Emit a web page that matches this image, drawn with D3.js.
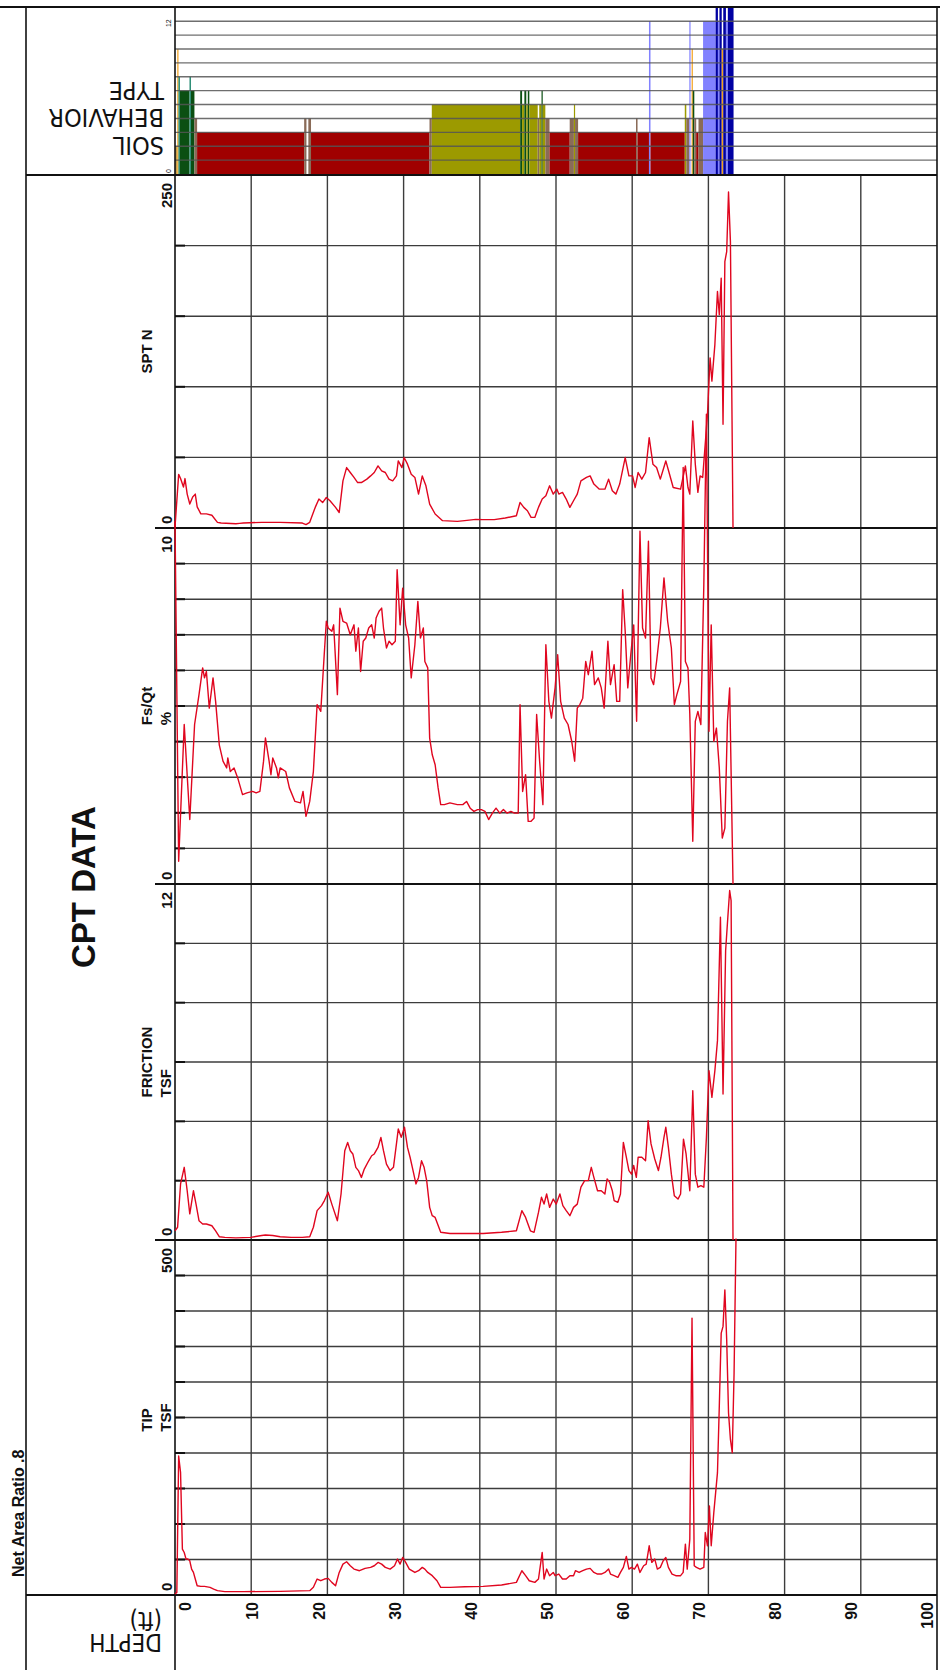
<!DOCTYPE html>
<html><head><meta charset="utf-8">
<script src="https://cdn.jsdelivr.net/npm/d3@7"></script>
<style>
html,body{margin:0;padding:0;background:#fff;}
svg{display:block;}
text{font-family:"Liberation Sans",Arial,Helvetica,sans-serif;fill:#111;}
text.narrow{font-family:"Liberation Sans Narrow","Arial Narrow","DejaVu Sans Condensed",sans-serif;font-stretch:condensed;}
</style>
</head><body>
<svg id="chart" width="940" height="1670"></svg>
<script>
// ---------------- DATA ----------------
const depthTicks = [0,10,20,30,40,50,60,70,80,90,100];

const sptDepth = [0,0.48,0.73,1.11,1.31,1.6,1.94,2.32,2.66,2.91,3.39,4.12,4.84,5.57,6.05,7.99,8.48,8.96,11.38,13.8,16.71,17.19,17.68,18.4,18.89,19.37,19.86,20.34,21.07,21.55,22.04,22.52,23.0,23.49,23.97,24.46,25.18,25.67,26.15,26.64,27.12,27.6,28.09,28.57,29.06,29.3,29.78,30.07,30.51,31.0,31.48,31.96,32.45,32.93,33.42,34.14,35.11,37.05,38.02,39.47,40.44,41.89,43.34,44.8,45.28,45.77,46.25,46.73,47.22,47.7,48.19,48.67,49.16,49.64,50.12,50.37,50.85,51.34,51.82,52.3,52.79,53.27,54.0,54.48,54.97,55.69,56.42,56.9,57.39,57.87,58.36,59.08,59.57,60.05,60.39,60.78,61.26,61.75,62.23,62.72,63.2,63.69,64.41,64.9,65.38,66.35,66.98,67.32,67.56,67.95,68.28,68.62,68.91,69.25,69.88,70.22,70.46,70.85,71.19,71.43,71.68,71.92,72.16,72.4,72.64,72.89,73.23];
const sptN = [0.5,38,35,29,35,24,17,22,24,15,10,10,9,4,3.5,3,3.3,3.5,4,4,3.5,2.4,4,14.6,20.5,18,21.6,19.3,14.6,11,33.4,42.8,39.3,35.8,32.2,32.2,34.6,36.9,39.3,44,40.5,39.3,34.6,33.4,36.9,47.5,42.8,49.9,45.2,38.1,35.8,24,36.9,29.9,16.9,9.9,5.2,4.7,5.2,6.1,5.9,5.9,7.1,8.7,18.1,14.6,12.2,7.5,7.5,14.6,20.5,22.8,29.9,24,27.5,24,25.2,20.5,14.6,19.3,24,33.4,35.8,36.9,31.1,27.5,27.5,34.6,26.4,24,31.1,49.9,36.9,36.9,28.7,39.3,34.6,39.3,64,45.2,42.8,34.6,47.5,38.1,28.7,27.5,44,28.7,24,75.8,45.2,25.2,36.9,35.8,80.5,120.5,104,129.9,167.5,151,177,73.4,188.7,195.8,238,202.8,0];

const fsqtDepth = [0,0.48,1.21,1.94,2.57,3.15,3.63,3.87,4.12,4.5,4.99,5.33,5.81,6.3,6.78,6.93,7.26,7.75,8.23,8.86,9.44,10.17,10.65,11.14,11.62,11.87,12.35,12.59,12.83,13.32,13.56,13.8,14.53,15.01,15.74,16.47,16.8,17.19,17.68,18.16,18.65,19.13,19.61,19.86,20.1,20.58,20.82,21.31,21.65,22.04,22.52,23.0,23.49,23.73,24.07,24.36,24.7,25.04,25.42,25.81,26.15,26.39,26.78,27.12,27.36,27.75,28.09,28.48,28.91,29.15,29.54,29.88,30.27,30.66,31.0,31.48,31.87,32.21,32.59,32.79,33.17,33.42,33.76,34.14,34.53,34.87,35.35,36.08,37.05,37.77,38.26,38.74,39.23,39.71,40.2,40.68,41.16,41.65,42.13,42.62,43.1,43.59,44.07,44.56,45.04,45.28,45.62,46.01,46.35,46.73,47.12,47.46,47.85,48.28,48.67,49.06,49.4,49.88,50.22,50.61,51.09,51.58,52.06,52.45,52.79,53.13,53.51,53.9,54.24,54.73,55.06,55.55,55.94,56.32,56.81,57.15,57.63,57.97,58.36,58.75,59.08,59.42,59.81,60.2,60.58,61.02,61.36,61.75,62.13,62.47,62.81,63.2,63.69,64.17,64.65,65.14,65.53,65.86,66.35,66.69,66.98,67.32,67.56,67.95,68.28,68.62,69.01,69.4,69.74,70.08,70.37,70.71,71.05,71.43,71.82,72.16,72.5,72.79,73.23];
const fsqtPct = [10.2,0.64,4.48,1.81,4.48,5.32,6.07,5.79,5.97,4.94,5.79,5.13,3.91,3.45,3.26,3.54,3.16,3.26,2.98,2.51,2.56,2.6,2.56,2.6,3.45,4.1,3.45,3.07,3.54,3.26,2.98,3.26,3.16,2.7,2.32,2.28,2.6,1.9,2.32,3.16,5.04,4.85,6.54,7.38,7.19,7.1,7.28,5.32,7.75,7.38,7.33,7.0,7.28,6.54,7.19,5.97,6.82,6.91,7.19,7.28,6.91,7.47,7.66,7.75,7.19,6.63,6.82,6.72,6.82,8.83,7.28,8.31,7.28,6.91,5.79,6.72,7.94,6.91,7.19,6.25,6.07,4.1,3.63,3.35,2.7,2.23,2.23,2.28,2.23,2.23,2.32,2.13,2.04,2.09,2.09,2.04,1.81,1.99,2.13,1.99,2.09,1.99,2.04,1.99,1.99,5.04,2.6,3.07,1.76,1.76,1.85,4.76,3.45,2.23,6.72,5.13,4.66,5.51,6.44,5.13,4.66,4.48,4.01,3.45,4.94,5.04,5.22,6.25,5.88,6.54,5.6,5.79,5.51,4.94,6.82,5.6,6.16,5.13,5.13,8.27,7.1,5.51,6.44,7.28,4.57,9.91,7.19,6.91,9.63,5.79,5.6,6.25,7.19,8.6,7.38,6.63,5.04,5.32,5.69,11.7,6.25,6.07,4.76,1.2,4.57,4.85,4.48,8.41,13.2,4.29,7.28,4.01,4.38,3.26,1.29,1.57,4.57,5.51,0];

const frictionDepth = [0,0.34,0.73,1.21,1.6,1.94,2.42,2.76,3.15,3.63,4.12,4.84,5.33,5.81,6.54,7.99,9.93,11.38,11.87,12.83,13.8,15.25,16.71,17.68,18.16,18.65,19.23,19.61,20.1,20.58,21.31,21.79,22.28,22.66,23.0,23.34,23.73,24.07,24.46,24.84,25.42,25.81,26.15,26.64,27.02,27.36,27.75,28.23,28.67,29.06,29.3,29.69,30.12,30.51,30.85,31.24,31.62,31.96,32.35,32.69,33.03,33.42,33.76,34.14,34.87,36.08,38.02,40.44,42.86,44.8,45.52,46.01,46.64,47.12,47.7,48.09,48.43,48.77,49.16,49.64,50.03,50.51,50.9,51.34,51.82,52.3,52.79,53.27,53.76,54.24,54.63,54.97,55.45,55.94,56.42,56.71,57.05,57.39,57.63,58.12,58.46,58.84,59.23,59.57,59.91,60.2,60.54,60.78,61.26,61.75,62.09,62.47,62.96,63.44,63.78,64.17,64.41,64.75,65.14,65.53,66.01,66.35,66.73,67.07,67.56,67.95,68.28,68.62,69.01,69.4,69.74,70.08,70.46,70.85,71.19,71.58,71.92,72.26,72.55,72.79,72.98,73.23];
const frictionTsf = [0.31,0.43,1.89,2.45,1.66,0.88,1.66,1.21,0.65,0.54,0.54,0.48,0.31,0.11,0.09,0.07,0.09,0.15,0.17,0.15,0.11,0.09,0.09,0.11,0.43,0.99,1.16,1.33,1.61,1.21,0.65,1.55,3.01,3.29,3.01,2.9,2.45,2.34,2.11,2.39,2.67,2.84,2.9,3.12,3.46,3.01,2.56,2.34,2.45,3.24,3.74,3.46,3.8,3.12,2.79,2.34,1.89,2.11,2.67,2.45,2.0,1.1,0.82,0.76,0.26,0.22,0.22,0.22,0.26,0.31,0.99,0.76,0.31,0.26,0.93,1.44,1.21,1.55,1.1,1.38,1.21,1.55,1.16,0.99,0.82,1.1,1.21,1.78,2.0,2.0,2.45,2.11,1.66,1.66,1.55,2.06,1.94,1.66,1.33,1.27,1.55,3.29,2.79,2.34,2.22,2.51,2.11,2.79,2.79,2.67,4.02,3.24,2.73,2.34,2.79,3.46,3.8,3.12,2.22,1.49,1.38,1.55,3.4,2.9,1.66,5.03,2.22,1.78,1.83,1.78,3.46,5.71,4.81,5.71,6.72,10.88,4.92,9.75,10.88,11.78,11.44,0];

const tipDepth = [0,0.24,0.48,0.73,0.97,1.21,1.45,1.69,1.94,2.18,2.42,2.66,2.91,3.39,3.87,4.6,5.08,5.57,6.54,8.96,13.8,17.68,18.16,18.65,19.13,19.61,20.1,20.58,21.07,21.55,22.04,22.52,23.0,23.49,24.21,24.94,25.67,26.15,26.64,27.12,27.6,28.23,28.81,29.2,29.54,29.88,30.27,30.75,31.48,31.96,32.45,32.79,33.17,33.76,34.38,34.87,36.08,38.02,40.44,42.86,44.8,45.52,46.01,46.49,47.22,47.7,48.19,48.43,48.77,49.16,49.64,49.88,50.37,50.85,51.34,51.82,52.3,52.55,53.03,53.51,54.0,54.48,54.97,55.45,55.94,56.42,56.9,57.15,57.63,58.12,58.46,58.84,59.23,59.57,59.91,60.3,60.68,61.02,61.5,61.84,62.23,62.57,62.96,63.3,63.69,64.07,64.41,64.75,65.23,65.72,66.35,66.69,66.98,67.22,67.56,67.85,68.14,68.43,68.91,69.4,69.59,69.88,70.13,70.37,70.71,70.95,71.19,71.43,71.68,71.92,72.16,72.4,72.64,72.89,73.13,73.37,73.62];
const tipTsf = [1.4,3.7,195.7,172.3,64.6,59.9,50.6,50.6,48.2,36.5,31.8,22.5,13.1,12.2,12.2,10.8,8.4,6.1,4.7,4.7,5.1,6.1,10.8,22.5,20.1,22.5,23.4,17.8,13.1,31.8,43.5,46.8,41.2,36.5,34.2,37.5,38.9,41.2,45.9,43.5,38.9,36.5,41.2,50.6,43.5,52.9,45.9,36.5,31.8,34.2,38.9,36.5,31.8,27.2,20.1,10.8,10.8,11.7,12.2,14.0,17.8,34.2,27.2,20.1,17.8,22.5,59.9,22.5,36.5,27.2,31.8,27.2,29.5,22.5,22.5,27.2,27.2,34.2,31.8,34.2,36.5,37.5,31.8,29.5,29.5,31.8,36.5,29.5,27.2,24.8,31.8,38.9,54.3,36.5,38.9,36.5,43.5,31.8,41.2,43.5,69.3,45.9,50.6,36.5,38.9,48.2,52.9,38.9,29.5,27.2,27.2,31.8,71.6,36.5,78.7,390,41.2,38.9,36.5,38.9,88,69.3,125.5,69.3,116.1,144.2,172.3,265.9,368.9,378.3,429.8,359.6,256.6,219.1,200.4,312.7,502];

// soil behavior type: interval start depth and zone (0 = no reading)
const soilFrom = [0,0.3,0.45,0.65,1.9,2.1,2.55,2.9,16.95,17.25,17.5,17.85,33.4,33.7,45.3,45.55,45.85,46.1,46.3,46.5,47.6,47.8,48.1,48.25,48.6,49.15,51.8,52.35,52.5,52.9,60.5,60.7,62.2,62.4,66.9,67.1,67.5,67.65,67.8,67.95,68.15,68.4,68.7,69.3,70.95,71.25,71.45,71.75,71.95,72.3,72.55];
const soilZone = [2,9,7,6,7,6,4,3,4,0,4,3,4,5,6,5,6,5,6,5,4,5,6,5,4,3,4,5,4,3,4,3,11,3,5,4,11,0,9,6,4,3,4,11,12,11,12,9,12,11,12];
const soilEnd = 73.3;
const zoneColors = {1:"#e9c9c2",2:"#c9a24e",3:"#a00000",4:"#8a6b58",5:"#9c9a00",6:"#0b4f12",7:"#2f8f78",8:"#66aa33",9:"#f2a11e",10:"#c0c040",11:"#8282ff",12:"#0000a2"};

const panelNames = [["SPT N"],["Fs/Qt","%"],["FRICTION","TSF"],["TIP","TSF"]];
const panelMax = [250,10,12,500];
const panelMaxLabel = ["250","10","12","500"];
const panelGrid = [[50,100,150,200],[1,2,3,4,5,6,7,8,9],[2,4,6,8,10],[50,100,150,200,250,300,350,400,450]];

// ---------------- LAYOUT ----------------
const svg = d3.select("#chart");
const X0 = 175, X1 = 937;
const x = d3.scaleLinear().domain([0,100]).range([X0, X1]);
const xLab = d3.scaleLinear().domain([0,20,100]).range([185, 319, 927]);
const panelTop = [175,528,884,1240], panelBot = [528,884,1240,1595];
const gridCol = "#3c3c3c", lineCol = "#e0061f";

// soil panel
const ys = d3.scaleLinear().domain([0,12]).range([174, 7.3]);
const soilSeg = soilFrom.map((d,i)=>({from:d,to:(i<soilFrom.length-1?soilFrom[i+1]:soilEnd),zone:soilZone[i]})).filter(s=>s.zone>0);
svg.append("g").selectAll("rect").data(soilSeg).join("rect")
  .attr("x",s=>x(s.from)).attr("width",s=>Math.max(1.2,x(s.to)-x(s.from)))
  .attr("y",s=>ys(s.zone)).attr("height",s=>ys(0)-ys(s.zone))
  .attr("fill",s=>zoneColors[s.zone]);
svg.append("g").selectAll("line").data(d3.range(1,12)).join("line")
  .attr("x1",X0).attr("x2",X1).attr("y1",z=>ys(z)).attr("y2",z=>ys(z))
  .attr("stroke","#555").attr("stroke-width",1.4).attr("stroke-opacity",0.85);
[[0,"0"],[12,"12"]].forEach(([z,t])=>{
  svg.append("text").attr("transform",`translate(171,${z===0?ys(0)-1:ys(12)+12}) rotate(-90)`)
    .attr("text-anchor",z===0?"start":"end").attr("font-size",7).text(t);
});

// vertical depth gridlines
svg.append("g").selectAll("line").data(depthTicks.slice(1,-1)).join("line")
  .attr("x1",d=>x(d)).attr("x2",d=>x(d)).attr("y1",175).attr("y2",1595)
  .attr("stroke",gridCol).attr("stroke-width",1.4);

// panels
const series = [
  {depth:sptDepth, val:sptN},
  {depth:fsqtDepth, val:fsqtPct},
  {depth:frictionDepth, val:frictionTsf},
  {depth:tipDepth, val:tipTsf}
];
const yScales = panelMax.map((m,i)=>d3.scaleLinear().domain([0,m]).range([panelBot[i],panelTop[i]]));
panelGrid.forEach((ticks,i)=>{
  const y = yScales[i];
  svg.append("g").selectAll("line").data(ticks).join("line")
    .attr("x1",X0).attr("x2",X1).attr("y1",v=>y(v)).attr("y2",v=>y(v))
    .attr("stroke",gridCol).attr("stroke-width",1.4);
  svg.append("g").selectAll("line").data(ticks).join("line")
    .attr("x1",X0).attr("x2",X0+10).attr("y1",v=>y(v)).attr("y2",v=>y(v))
    .attr("stroke","#111").attr("stroke-width",2);
});
// frame lines
const frame = svg.append("g").attr("stroke","#111").attr("fill","none");
frame.append("line").attr("x1",0).attr("x2",940).attr("y1",7).attr("y2",7).attr("stroke-width",2.2);
frame.append("line").attr("x1",26).attr("x2",26).attr("y1",7).attr("y2",1670).attr("stroke-width",1.6);
frame.append("line").attr("x1",X0).attr("x2",X0).attr("y1",7).attr("y2",1670).attr("stroke-width",1.6);
frame.append("line").attr("x1",X1).attr("x2",X1).attr("y1",7).attr("y2",1670).attr("stroke-width",1.6);
frame.append("line").attr("x1",26).attr("x2",X1).attr("y1",175).attr("y2",175).attr("stroke-width",1.8);
frame.append("line").attr("x1",26).attr("x2",X1).attr("y1",1595).attr("y2",1595).attr("stroke-width",1.8);
[528,884,1240].forEach(yy=>frame.append("line").attr("x1",155).attr("x2",X1).attr("y1",yy).attr("y2",yy).attr("stroke-width",1.8));

// data lines
series.forEach((s,i)=>{
  const y = yScales[i];
  const pts = s.depth.map((d,k)=>[d,s.val[k]]);
  svg.append("path").datum(pts)
    .attr("d",d3.line().x(p=>x(p[0])).y(p=>y(p[1])))
    .attr("fill","none").attr("stroke",lineCol).attr("stroke-width",1.4).attr("stroke-linejoin","round");
});

// panel titles and scale labels
const rot = (g,xx,yy,txt,anchor,size,weight)=>g.append("text")
  .attr("transform",`translate(${xx},${yy}) rotate(-90)`).attr("text-anchor",anchor)
  .attr("font-size",size).attr("font-weight",weight||"bold").text(txt);
panelNames.forEach((names,i)=>{
  const cy = (panelTop[i]+panelBot[i])/2;
  // title block: lines left-aligned (bottom-aligned once rotated), block centred on the panel
  const nodes = names.map((n,k)=>rot(svg,152+k*19,cy,n,"start",15));
  const maxLen = d3.max(nodes,nd=>nd.node().getComputedTextLength());
  nodes.forEach((nd,k)=>nd.attr("transform",`translate(${152+k*19},${cy+maxLen/2}) rotate(-90)`));
  rot(svg,172,panelTop[i]+8,panelMaxLabel[i],"end",15);
  rot(svg,172,panelBot[i]-4,"0","start",15);
});
rot(svg,95,887,"CPT DATA","middle",33);
rot(svg,24,1577,"Net Area Ratio .8","start",16);

// depth labels
svg.append("g").selectAll("text").data(depthTicks).join("text")
  .attr("transform",d=>`translate(${xLab(d)+6},1602) rotate(-90)`)
  .attr("text-anchor","end").attr("font-size",16).attr("font-weight","bold").text(d=>d);

// upside-down labels
const flip = (xx,yy,txt,size)=>svg.append("text").attr("class","narrow")
  .attr("transform",`translate(${xx},${yy}) rotate(180)`).attr("text-anchor","start")
  .attr("font-size",size).text(txt);
flip(164,82,"TYPE",25); flip(164,109,"BEHAVIOR",25); flip(164,137,"SOIL",25);
flip(162,1634,"DEPTH",24); flip(162,1612,"(ft)",24);
</script>
</body></html>
